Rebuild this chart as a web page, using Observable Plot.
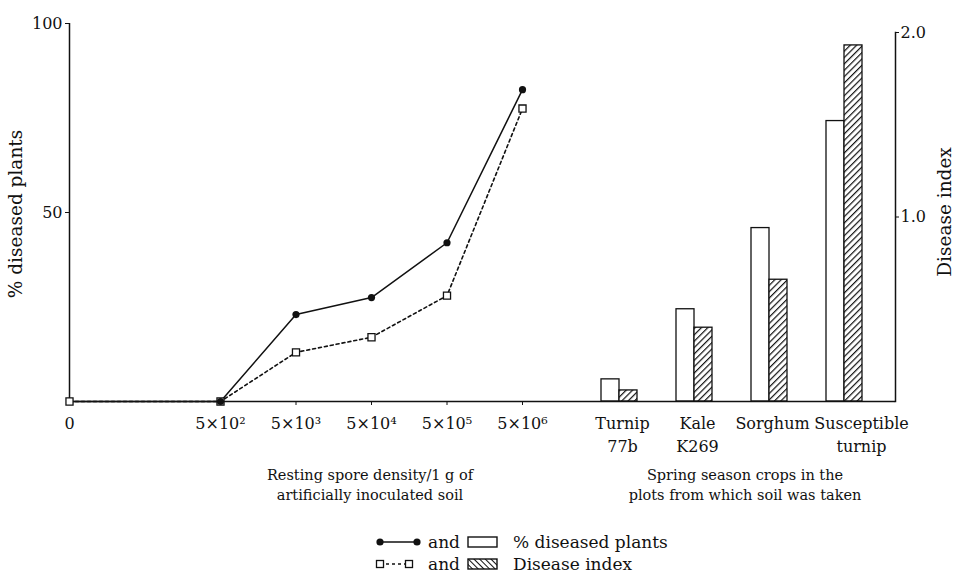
<!DOCTYPE html>
<html><head><meta charset="utf-8">
<script src="https://cdn.jsdelivr.net/npm/d3@7"></script>
<script src="https://cdn.jsdelivr.net/npm/@observablehq/plot@0.6"></script>
<style>
body{margin:0;background:#fff;}
#chart{position:relative;width:958px;height:578px;font-family:"DejaVu Serif",serif;color:#111;overflow:hidden;}
#chart svg.p{position:absolute;top:0;}
.t{position:absolute;white-space:nowrap;font-size:14.5px;line-height:20px;text-align:center;}
.rot{position:absolute;white-space:nowrap;font-size:18.5px;transform:translate(-50%,-50%) rotate(-90deg);}
</style></head><body><div id="chart"></div>
<script>
// ---- data ----
const densityLabels = ["0", "5×10²", "5×10³", "5×10⁴", "5×10⁵", "5×10⁶"];
const densities     = [0, 5e2, 5e3, 5e4, 5e5, 5e6];
const pctDiseased   = [0, 0, 23, 27.5, 42, 82.5];      // filled circles, % diseased plants
const diseaseIndex  = [0, 0, 0.26, 0.34, 0.56, 1.55];  // open squares, disease index
const crops         = ["Turnip\n77b", "Kale\nK269", "Sorghum", "Susceptible\nturnip"];
const cropPct       = [6, 25, 47, 76];                 // open bars, % diseased plants
const cropIndex     = [0.06, 0.40, 0.66, 1.93];        // hatched bars, disease index
const leftTicks     = [50, 100];
const rightTicks    = [1, 2];

const chart = document.getElementById("chart");
const ink = "#111";
const font = {fontFamily: "DejaVu Serif", fontSize: "16px", color: ink, background: "transparent", overflow: "visible"};

// zero density is drawn at the origin of the broken log axis
const origin = 5;
const dens = densities.map((d, i) => ({density: d, label: densityLabels[i], pct: pctDiseased[i], idx: diseaseIndex[i]}));
const xpos = d => d.density === 0 ? origin : d.density;

const left = Plot.plot({
  width: 570, height: 450, marginLeft: 69, marginRight: 0, marginTop: 23, marginBottom: 49,
  style: font,
  x: {type: "log", domain: [origin, 5e6], range: [69, 522]},
  y: {domain: [0, 100]},
  marks: [
    Plot.ruleX([origin], {stroke: ink, strokeWidth: 1.5}),
    Plot.ruleY([0], {stroke: ink, strokeWidth: 1.5}),
    Plot.axisY({ticks: leftTicks, tickSize: 4, tickPadding: 3, label: null}),
    Plot.axisX({ticks: densities.filter(d => d > 0), tickSize: 4, tickFormat: () => "", label: null}),
    Plot.text(dens, {x: xpos, text: "label", frameAnchor: "bottom", lineAnchor: "top", dy: 16, fontSize: 16, fill: ink}),
    Plot.line(dens, {x: xpos, y: d => d.idx * 50, stroke: ink, strokeWidth: 1.6, strokeDasharray: "3,3"}),
    Plot.line(dens, {x: xpos, y: "pct", stroke: ink, strokeWidth: 1.5}),
    Plot.dot(dens, {x: xpos, y: d => d.idx * 50, symbol: "square", r: 4, fill: "white", stroke: ink, strokeWidth: 1.3}),
    Plot.dot(dens.filter(d => d.density > 0), {x: xpos, y: "pct", r: 3.6, fill: ink})
  ]
});
left.classList.add("p");
left.style.left = "0px";
chart.appendChild(left);

const cropData = crops.map((c, i) => ({crop: c, pct: cropPct[i], idx: cropIndex[i]}));
const right = Plot.plot({
  width: 388, height: 450, marginLeft: 0, marginRight: 63, marginTop: 32, marginBottom: 49,
  style: font,
  x: {type: "band", domain: crops, range: [30, 292], paddingInner: 0.52, paddingOuter: 0},
  y: {domain: [0, 2]},
  marks: [
    Plot.barY(cropData, {x: "crop", y: d => d.pct / 50, fill: "white", stroke: ink, strokeWidth: 1.3, insetRight: 18}),
    Plot.barY(cropData, {x: "crop", y: "idx", fill: "url(#hatchR)", stroke: ink, strokeWidth: 1.3, insetLeft: 18}),
    Plot.ruleY([0], {stroke: ink, strokeWidth: 1.5}),
    Plot.frame({anchor: "right", stroke: ink, strokeWidth: 1.5}),
    Plot.axisY({anchor: "right", ticks: rightTicks, tickFormat: ".1f", tickSize: 3, tickPadding: 2, label: null}),
    Plot.axisX({ticks: crops.slice(0, 3), tickSize: 0, tickPadding: 12, lineHeight: 1.4, dx: 3, label: null}),
    Plot.axisX({ticks: crops.slice(3), tickSize: 0, tickPadding: 12, lineHeight: 1.4, dx: 17, label: null})
  ]
});
right.classList.add("p");
right.style.left = "570px";
d3.select(right).insert("defs", ":first-child").html(
  `<pattern id="hatchR" patternUnits="userSpaceOnUse" width="4.5" height="4.5" patternTransform="rotate(45)">
     <rect width="4.5" height="4.5" fill="white"/><line x1="0" y1="0" x2="0" y2="4.5" stroke="${ink}" stroke-width="2.4"/></pattern>`);
chart.appendChild(right);

// axis titles
function addText(cls, html, css) {
  const el = document.createElement("div");
  el.className = cls; el.innerHTML = html;
  Object.assign(el.style, css);
  chart.appendChild(el);
}
addText("rot", "% diseased plants", {left: "15px", top: "214px"});
addText("rot", "Disease index", {left: "944px", top: "212px"});
addText("t", "Resting spore density/1 g of<br>artificially inoculated soil", {left: "220px", width: "300px", top: "465px"});
addText("t", "Spring season crops in the<br>plots from which soil was taken", {left: "595px", width: "300px", top: "465px"});

// legend
const lg = d3.select(chart).append("svg")
  .attr("width", 340).attr("height", 56)
  .style("position", "absolute").style("left", "360px").style("top", "525px")
  .style("font-family", "DejaVu Serif").style("font-size", "17px").style("fill", ink);
lg.append("defs").html(
  `<pattern id="hatchL" patternUnits="userSpaceOnUse" width="4" height="4" patternTransform="rotate(-45)">
     <rect width="4" height="4" fill="white"/><line x1="0" y1="0" x2="0" y2="4" stroke="${ink}" stroke-width="2"/></pattern>`);
lg.append("line").attr("x1", 20).attr("x2", 57).attr("y1", 17).attr("y2", 17).attr("stroke", ink).attr("stroke-width", 1.5);
lg.append("circle").attr("cx", 20).attr("cy", 17).attr("r", 3.6).attr("fill", ink);
lg.append("circle").attr("cx", 57).attr("cy", 17).attr("r", 3.6).attr("fill", ink);
lg.append("text").attr("x", 68).attr("y", 17).attr("dy", "0.35em").text("and");
lg.append("rect").attr("x", 108).attr("y", 12).attr("width", 29).attr("height", 10).attr("fill", "white").attr("stroke", ink).attr("stroke-width", 1.4);
lg.append("text").attr("x", 153).attr("y", 17).attr("dy", "0.35em").text("% diseased plants");
lg.append("line").attr("x1", 20).attr("x2", 49).attr("y1", 39).attr("y2", 39).attr("stroke", ink).attr("stroke-width", 1.6).attr("stroke-dasharray", "3,3");
lg.append("rect").attr("x", 16.5).attr("y", 35.5).attr("width", 7).attr("height", 7).attr("fill", "white").attr("stroke", ink).attr("stroke-width", 1.3);
lg.append("rect").attr("x", 45.5).attr("y", 35.5).attr("width", 7).attr("height", 7).attr("fill", "white").attr("stroke", ink).attr("stroke-width", 1.3);
lg.append("text").attr("x", 68).attr("y", 39).attr("dy", "0.35em").text("and");
lg.append("rect").attr("x", 108).attr("y", 34).attr("width", 29).attr("height", 10).attr("fill", "url(#hatchL)").attr("stroke", ink).attr("stroke-width", 1.4);
lg.append("text").attr("x", 153).attr("y", 39).attr("dy", "0.35em").text("Disease index");
</script></body></html>
